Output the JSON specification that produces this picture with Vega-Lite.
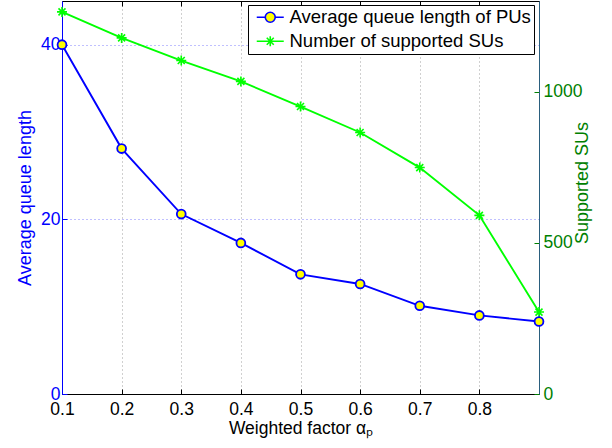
{
  "$schema": "https://vega.github.io/schema/vega-lite/v6.json",
  "width": 477,
  "height": 393,
  "autosize": "none",
  "padding": {"left": 62, "top": 1, "right": 73, "bottom": 54},
  "data": {
    "values": [
      {"alpha": 0.1, "queue": 40.0, "sus": 1264},
      {"alpha": 0.2, "queue": 28.1, "sus": 1178},
      {"alpha": 0.3, "queue": 20.6, "sus": 1103},
      {"alpha": 0.4, "queue": 17.3, "sus": 1034},
      {"alpha": 0.5, "queue": 13.7, "sus": 951},
      {"alpha": 0.6, "queue": 12.6, "sus": 865},
      {"alpha": 0.7, "queue": 10.1, "sus": 749},
      {"alpha": 0.8, "queue": 9.0, "sus": 591},
      {"alpha": 0.9, "queue": 8.3, "sus": 271}
    ]
  },
  "layer": [
    {
      "encoding": {
        "x": {
          "field": "alpha", "type": "quantitative",
          "scale": {"domain": [0.1, 0.9], "nice": false, "zero": false},
          "axis": {
            "orient": "top", "title": null, "labels": false, "grid": false,
            "values": [0.1, 0.2, 0.3, 0.4, 0.5, 0.6, 0.7, 0.8, 0.9],
            "tickSize": -5, "tickColor": "#000000", "domainColor": "#000000"
          }
        },
        "y": {
          "field": "sus", "type": "quantitative",
          "scale": {"domain": [0, 1300], "nice": false},
          "axis": {
            "orient": "right", "title": "Supported SUs", "format": "d",
            "values": [0, 500, 1000], "grid": false,
            "tickSize": -5, "labelPadding": 9,
            "labelColor": "#008000", "tickColor": "#008000", "domainColor": "#2a5e7e",
            "titleColor": "#008000", "titleFontSize": 18,
            "titleX": 43, "titleY": 181.5, "titleAngle": 270,
            "titleBaseline": "middle", "titleAlign": "center"
          }
        }
      },
      "layer": [
        {"mark": {"type": "line", "color": "#00ff00", "strokeWidth": 1.9}},
        {
          "mark": {
            "type": "point", "filled": false, "size": 100, "strokeWidth": 1.6, "opacity": 1,
            "color": "#00ff00",
            "shape": "M-1,0H1M0,-1V1M-0.7,-0.7L0.7,0.7M-0.7,0.7L0.7,-0.7"
          }
        }
      ]
    },
    {
      "encoding": {
        "x": {
          "field": "alpha", "type": "quantitative",
          "title": "Weighted factor αₚ",
          "scale": {"domain": [0.1, 0.9], "nice": false, "zero": false},
          "axis": {
            "orient": "bottom", "format": ".1f",
            "values": [0.1, 0.2, 0.3, 0.4, 0.5, 0.6, 0.7, 0.8, 0.9],
            "labelExpr": "datum.value > 0.85 ? '' : datum.label",
            "grid": true, "gridColor": "#a0a0a0", "gridDash": [1, 3],
            "tickSize": -5, "labelPadding": 11,
            "tickColor": "#000000", "domainColor": "#000000", "labelColor": "#000000",
            "titleColor": "#000000", "titleFontSize": 17.5,
            "titleX": 238.5, "titleY": 39, "titleBaseline": "alphabetic", "titleAlign": "center"
          }
        },
        "y": {
          "field": "queue", "type": "quantitative",
          "scale": {"domain": [0, 45], "nice": false},
          "axis": {
            "orient": "left", "title": "Average queue length",
            "values": [0, 20, 40], "grid": true, "gridColor": "#8080ff", "gridDash": [1, 3],
            "tickSize": -5, "labelPadding": 7,
            "labelColor": "#0000ff", "tickColor": "#0000ff", "domainColor": "#0000ff",
            "titleColor": "#0000ff", "titleFontSize": 18,
            "titleX": -37, "titleY": 196.5, "titleAngle": 270,
            "titleBaseline": "middle", "titleAlign": "center"
          }
        }
      },
      "layer": [
        {"mark": {"type": "line", "color": "#0000ff", "strokeWidth": 1.9}},
        {
          "mark": {"type": "point", "shape": "circle", "filled": true, "size": 78, "strokeWidth": 1.8, "opacity": 1, "fill": "#ffff00", "stroke": "#0000ff"}
        }
      ]
    },
    {
      "data": {
        "values": [
          {"series": "Average queue length of PUs"},
          {"series": "Number of supported SUs"}
        ]
      },
      "transform": [{"filter": "false"}],
      "mark": {"type": "point", "filled": true, "opacity": 1, "strokeWidth": 1.5},
      "encoding": {
        "stroke": {
          "field": "series", "type": "nominal",
          "scale": {"domain": ["Average queue length of PUs", "Number of supported SUs"], "range": ["#0000ff", "#00ff00"]},
          "legend": {"title": null}
        },
        "fill": {
          "field": "series", "type": "nominal",
          "scale": {"domain": ["Average queue length of PUs", "Number of supported SUs"], "range": ["#ffff00", "transparent"]},
          "legend": {"title": null}
        },
        "shape": {
          "field": "series", "type": "nominal",
          "scale": {
            "domain": ["Average queue length of PUs", "Number of supported SUs"],
            "range": [
              "M-1.93,0H-0.71M0.71,0H1.93M-0.71,0A0.71,0.71 0 1,0 0.71,0A0.71,0.71 0 1,0 -0.71,0Z",
              "M-1.93,0H1.93M0,-0.7V0.7M-0.5,-0.5L0.5,0.5M-0.5,0.5L0.5,-0.5"
            ]
          },
          "legend": {"title": null}
        }
      }
    }
  ],
  "resolve": {"scale": {"y": "independent"}, "axis": {"x": "independent", "y": "independent"}},
  "config": {
    "view": {"stroke": null},
    "font": "Liberation Sans",
    "axis": {
      "labelFont": "Liberation Sans", "labelFontSize": 17.5, "labelFontWeight": "normal",
      "titleFont": "Liberation Sans", "titleFontWeight": "normal",
      "labelFlush": false, "labelOverlap": false, "labelBound": false,
      "domainWidth": 1, "tickWidth": 1
    },
    "legend": {
      "orient": "none", "legendX": 186, "legendY": 4,
      "labelFont": "Liberation Sans", "labelFontSize": 18.5, "labelColor": "#000000", "labelLimit": 0,
      "symbolSize": 196, "symbolStrokeWidth": 1.6, "symbolOffset": 10, "labelOffset": 10,
      "rowPadding": 5, "padding": 3,
      "fillColor": "#ffffff", "strokeColor": "#000000", "strokeWidth": 1, "cornerRadius": 0
    }
  }
}
